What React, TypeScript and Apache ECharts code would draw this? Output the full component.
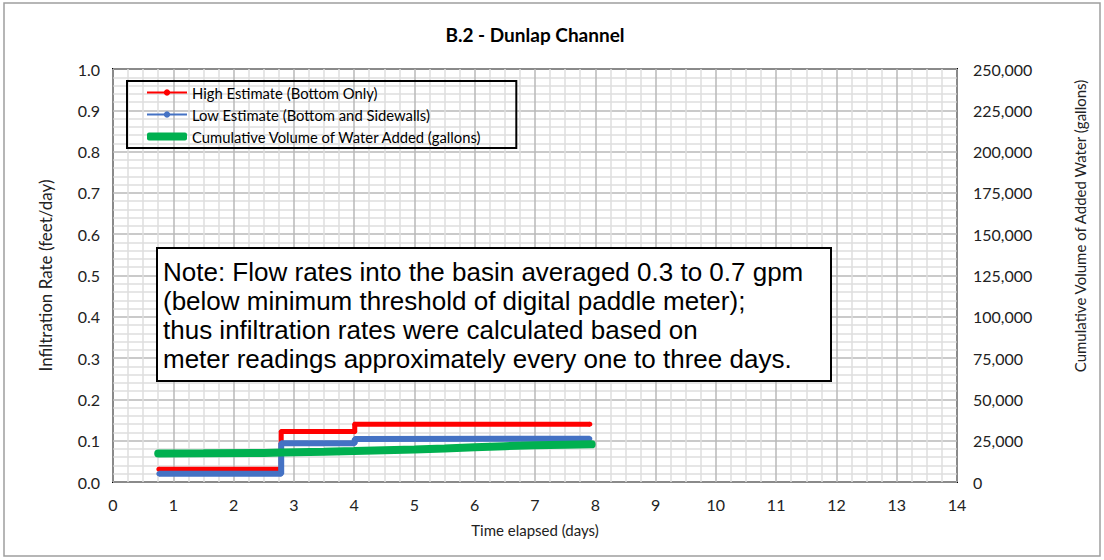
import React, { useEffect, useRef } from "react";
import * as echarts from "echarts";

const xTicks = [0, 14];
const highX = [0.76, 2.79, 2.79, 4.01, 4.01, 7.91];
const highY = [0.031, 0.031, 0.122, 0.122, 0.14, 0.14];
const lowX = [0.76, 2.79, 2.79, 4.01, 4.01, 7.91];
const lowY = [0.02, 0.02, 0.094, 0.094, 0.104, 0.105];
const volX = [0.75, 1.5, 2.5, 2.8, 3.5, 4.0, 4.5, 5.0, 5.5, 6.0, 6.5, 7.0, 7.5, 7.94];
const volY = [17300, 17400, 17600, 17900, 18300, 18700, 19200, 19700, 20300, 21000, 21700, 22300, 22600, 22800];
const seriesNames = [
  "High Estimate (Bottom Only)",
  "Low Estimate (Bottom and Sidewalls)",
  "Cumulative Volume of Water Added (gallons)",
];
const noteLines = [
  "Note: Flow rates into the basin averaged 0.3 to 0.7 gpm",
  "(below minimum threshold of digital paddle meter);",
  "thus infiltration rates were calculated based on",
  "meter readings approximately every one to three days.",
];

const FONT = "Lato, 'Open Sans', sans-serif";

export default function App() {
  const ref = useRef<HTMLDivElement>(null);
  useEffect(() => {
    if (!ref.current) return;
    const chart = echarts.init(ref.current, null, { renderer: "svg" });
    const zip = (xs: number[], ys: number[]) => xs.map((x, i) => [x, ys[i]]);
    chart.setOption({
      animation: false,
      backgroundColor: "#fff",
      title: {
        text: "B.2 - Dunlap Channel",
        left: 530,
        top: 20,
        textAlign: "center",
        textStyle: { fontFamily: FONT, fontSize: 19, fontWeight: "bold", color: "#000" },
      },
      legend: {
        orient: "vertical",
        left: 127,
        top: 81,
        borderColor: "#000",
        borderWidth: 2,
        padding: [4, 34, 4, 19],
        itemGap: 7,
        itemWidth: 40,
        itemHeight: 8,
        textStyle: { fontFamily: FONT, fontSize: 14.8, color: "#000" },
        data: [
          { name: seriesNames[0] },
          { name: seriesNames[1] },
          { name: seriesNames[2], icon: "roundRect", itemStyle: { color: "#00b050" } },
        ],
      },
      grid: {
        left: 113,
        right: 147,
        top: 69,
        bottom: 78,
        show: true,
        borderColor: "#000",
        borderWidth: 2,
        containLabel: false,
      },
      xAxis: {
        type: "value",
        min: xTicks[0],
        max: xTicks[1],
        interval: 1,
        name: "Time elapsed (days)",
        nameLocation: "middle",
        nameGap: 40,
        nameTextStyle: { fontFamily: FONT, fontSize: 15, color: "#222" },
        axisLine: { show: false },
        axisTick: { show: false },
        axisLabel: { fontFamily: FONT, fontSize: 16, color: "#222", margin: 14 },
        splitLine: { show: true, lineStyle: { color: "#b8b8b8", width: 1.5 } },
        minorTick: { show: false, splitNumber: 4 },
        minorSplitLine: { show: true, lineStyle: { color: "#dedede", width: 1.5 } },
      },
      yAxis: [
        {
          type: "value",
          min: 0,
          max: 1,
          interval: 0.1,
          name: "Infiltration Rate (feet/day)",
          nameLocation: "middle",
          nameGap: 59,
          nameTextStyle: { fontFamily: FONT, fontSize: 17, color: "#222" },
          axisLine: { show: false },
          axisTick: { show: false },
          axisLabel: {
            fontFamily: FONT,
            fontSize: 16,
            color: "#222",
            margin: 13,
            formatter: (v: number) => v.toFixed(1),
          },
          splitLine: { show: true, lineStyle: { color: "#b8b8b8", width: 1.5 } },
          minorTick: { show: false, splitNumber: 5 },
          minorSplitLine: { show: true, lineStyle: { color: "#dedede", width: 1.5 } },
        },
        {
          type: "value",
          min: 0,
          max: 250000,
          interval: 25000,
          position: "right",
          axisLine: { show: false },
          axisTick: { show: false },
          axisLabel: {
            fontFamily: FONT,
            fontSize: 16,
            color: "#222",
            margin: 16,
            formatter: (v: number) => v.toLocaleString("en-US"),
          },
          splitLine: { show: false },
        },
      ],
      series: [
        {
          name: seriesNames[0],
          type: "line",
          yAxisIndex: 0,
          data: zip(highX, highY),
          symbol: "circle",
          symbolSize: 5,
          itemStyle: { color: "#ff0000" },
          lineStyle: { color: "#ff0000", width: 5 },
          z: 3,
        },
        {
          name: seriesNames[1],
          type: "line",
          yAxisIndex: 0,
          data: zip(lowX, lowY),
          symbol: "circle",
          symbolSize: 5,
          itemStyle: { color: "#4472c4" },
          lineStyle: { color: "#4472c4", width: 6 },
          z: 4,
        },
        {
          name: seriesNames[2],
          type: "line",
          yAxisIndex: 1,
          data: zip(volX, volY),
          showSymbol: false,
          symbol: "none",
          itemStyle: { color: "#00b050" },
          lineStyle: { color: "#00b050", width: 8, cap: "round" },
          z: 5,
        },
      ],
      graphic: [
        {
          type: "rect",
          shape: { x: 4, y: 3, width: 1096, height: 553 },
          style: { fill: "none", stroke: "#9e9e9e", lineWidth: 1.5 },
          z: 100,
        },
        {
          type: "text",
          x: 1080,
          y: 226,
          rotation: Math.PI / 2,
          z: 100,
          style: {
            text: "Cumulative Volume of Added Water (gallons)",
            font: "15px Lato, 'Open Sans', sans-serif",
            fill: "#222",
            textAlign: "center",
            textVerticalAlign: "middle",
          },
        },
        {
          type: "rect",
          z: 100,
          shape: { x: 157, y: 248, width: 674, height: 133 },
          style: { fill: "#fff", stroke: "#000", lineWidth: 2 },
        },
        {
          type: "text",
          z: 101,
          x: 163,
          y: 257,
          style: {
            text: noteLines.join("\n"),
            font: "26px 'Liberation Sans', Arial, sans-serif",
            lineHeight: 29,
            fill: "#000",
          },
        },
      ],
    });
    return () => chart.dispose();
  }, []);
  return (
    <div
      ref={ref}
      style={{ position: "absolute", left: 0, top: 0, width: 1104, height: 560 }}
    />
  );
}
